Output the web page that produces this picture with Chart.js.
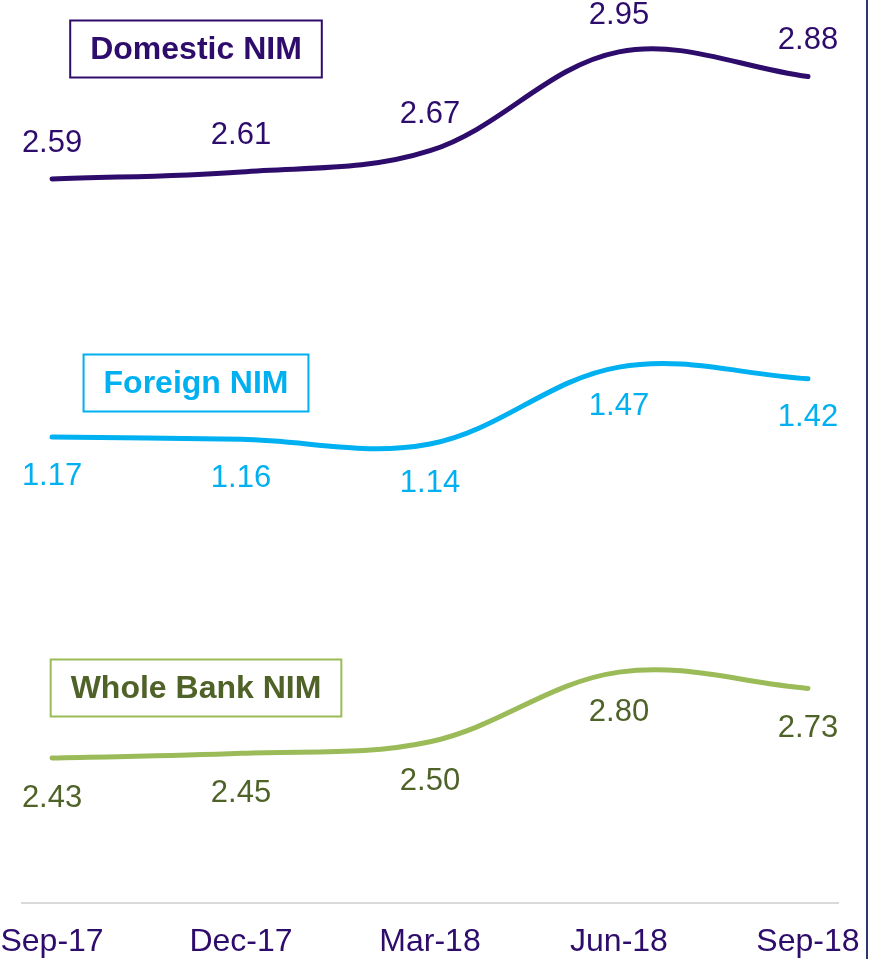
<!DOCTYPE html>
<html lang="en">
<head>
    <meta charset="UTF-8">
    <title>Net interest margin by quarter</title>
    <script src="https://cdn.jsdelivr.net/npm/chart.js"></script>
    <style>
        body { margin: 0; background: #fff; }
        .wrap { position: relative; width: 869px; height: 959px; }
        .edge { position: absolute; left: 866px; top: 0; width: 2px; height: 959px; background: #2b3a6b; }
    </style>
</head>
<body>
    <div class="wrap">
        <canvas id="nimChart" width="869" height="959"></canvas>
        <div class="edge"></div>
    </div>
    <script>
        const quarters = ['Sep-17', 'Dec-17', 'Mar-18', 'Jun-18', 'Sep-18'];
        const domesticNim = [2.59, 2.61, 2.67, 2.95, 2.88];
        const foreignNim = [1.17, 1.16, 1.14, 1.47, 1.42];
        const wholeBankNim = [2.43, 2.45, 2.50, 2.80, 2.73];

        const FONT = '"Liberation Sans", Arial, sans-serif';

        function toPoints(values) {
            return values.map((v, i) => ({ x: i, y: v }));
        }

        // value labels + the boxed series name
        const nimLabels = {
            id: 'nimLabels',
            afterDatasetsDraw(chart) {
                const ctx = chart.ctx;
                ctx.save();
                ctx.textAlign = 'center';
                ctx.textBaseline = 'middle';
                chart.data.datasets.forEach((ds, i) => {
                    const meta = chart.getDatasetMeta(i);
                    ctx.font = '31px ' + FONT;
                    ctx.fillStyle = ds.labelColor;
                    meta.data.forEach((pt, j) => {
                        ctx.fillText(ds.data[j].y.toFixed(2), pt.x, pt.y + ds.labelShift);
                    });

                    ctx.font = 'bold 32px ' + FONT;
                    const w = ctx.measureText(ds.label).width + 40;
                    const h = 57;
                    const [cx, cy] = ds.tagAt;
                    ctx.lineWidth = 2;
                    ctx.strokeStyle = ds.borderColor;
                    ctx.strokeRect(cx - w / 2, cy - h / 2, w, h);
                    ctx.fillText(ds.label, cx, cy + 1);
                });
                ctx.restore();
            }
        };

        const lineStyle = {
            borderWidth: 5,
            borderCapStyle: 'round',
            pointRadius: 0,
            tension: 0.36,
            fill: false
        };

        new Chart(document.getElementById('nimChart'), {
            type: 'line',
            data: {
                datasets: [
                    {
                        ...lineStyle,
                        label: 'Domestic NIM',
                        data: toPoints(domesticNim),
                        borderColor: '#2e0c6c',
                        labelColor: '#2e0c6c',
                        labelShift: -36,
                        tagAt: [196, 49],
                        yAxisID: 'yDom'
                    },
                    {
                        ...lineStyle,
                        label: 'Foreign NIM',
                        data: toPoints(foreignNim),
                        borderColor: '#00b0f0',
                        labelColor: '#00b0f0',
                        labelShift: 39,
                        tagAt: [196, 383],
                        yAxisID: 'yFor'
                    },
                    {
                        ...lineStyle,
                        label: 'Whole Bank NIM',
                        data: toPoints(wholeBankNim),
                        borderColor: '#9bbb59',
                        labelColor: '#4f6228',
                        labelShift: 40,
                        tagAt: [196, 688],
                        yAxisID: 'yAll'
                    }
                ]
            },
            options: {
                responsive: false,
                animation: false,
                devicePixelRatio: 1,
                layout: { padding: { left: 22, right: 31, top: 0, bottom: 0 } },
                plugins: {
                    legend: { display: false },
                    tooltip: { enabled: false }
                },
                scales: {
                    x: {
                        type: 'linear',
                        min: -0.159,
                        max: 4.159,
                        afterBuildTicks: scale => {
                            scale.ticks = quarters.map((q, i) => ({ value: i }));
                        },
                        afterFit: scale => {
                            scale.paddingLeft = 0;
                            scale.paddingRight = 0;
                            scale.height = 56;
                        },
                        grid: { display: false, drawTicks: false },
                        border: { display: true, color: '#d9d9d9', width: 2 },
                        ticks: {
                            callback: v => quarters[v],
                            color: '#2e0c6c',
                            font: { family: FONT, size: 32 },
                            padding: 20,
                            autoSkip: false,
                            maxRotation: 0
                        }
                    },
                    yDom: { display: false, min: 0.539, max: 3.097 },
                    yFor: { display: false, min: -0.83, max: 3.0455 },
                    yAll: { display: false, min: 1.805, max: 5.697 }
                }
            },
            plugins: [nimLabels]
        });
    </script>
</body>
</html>
